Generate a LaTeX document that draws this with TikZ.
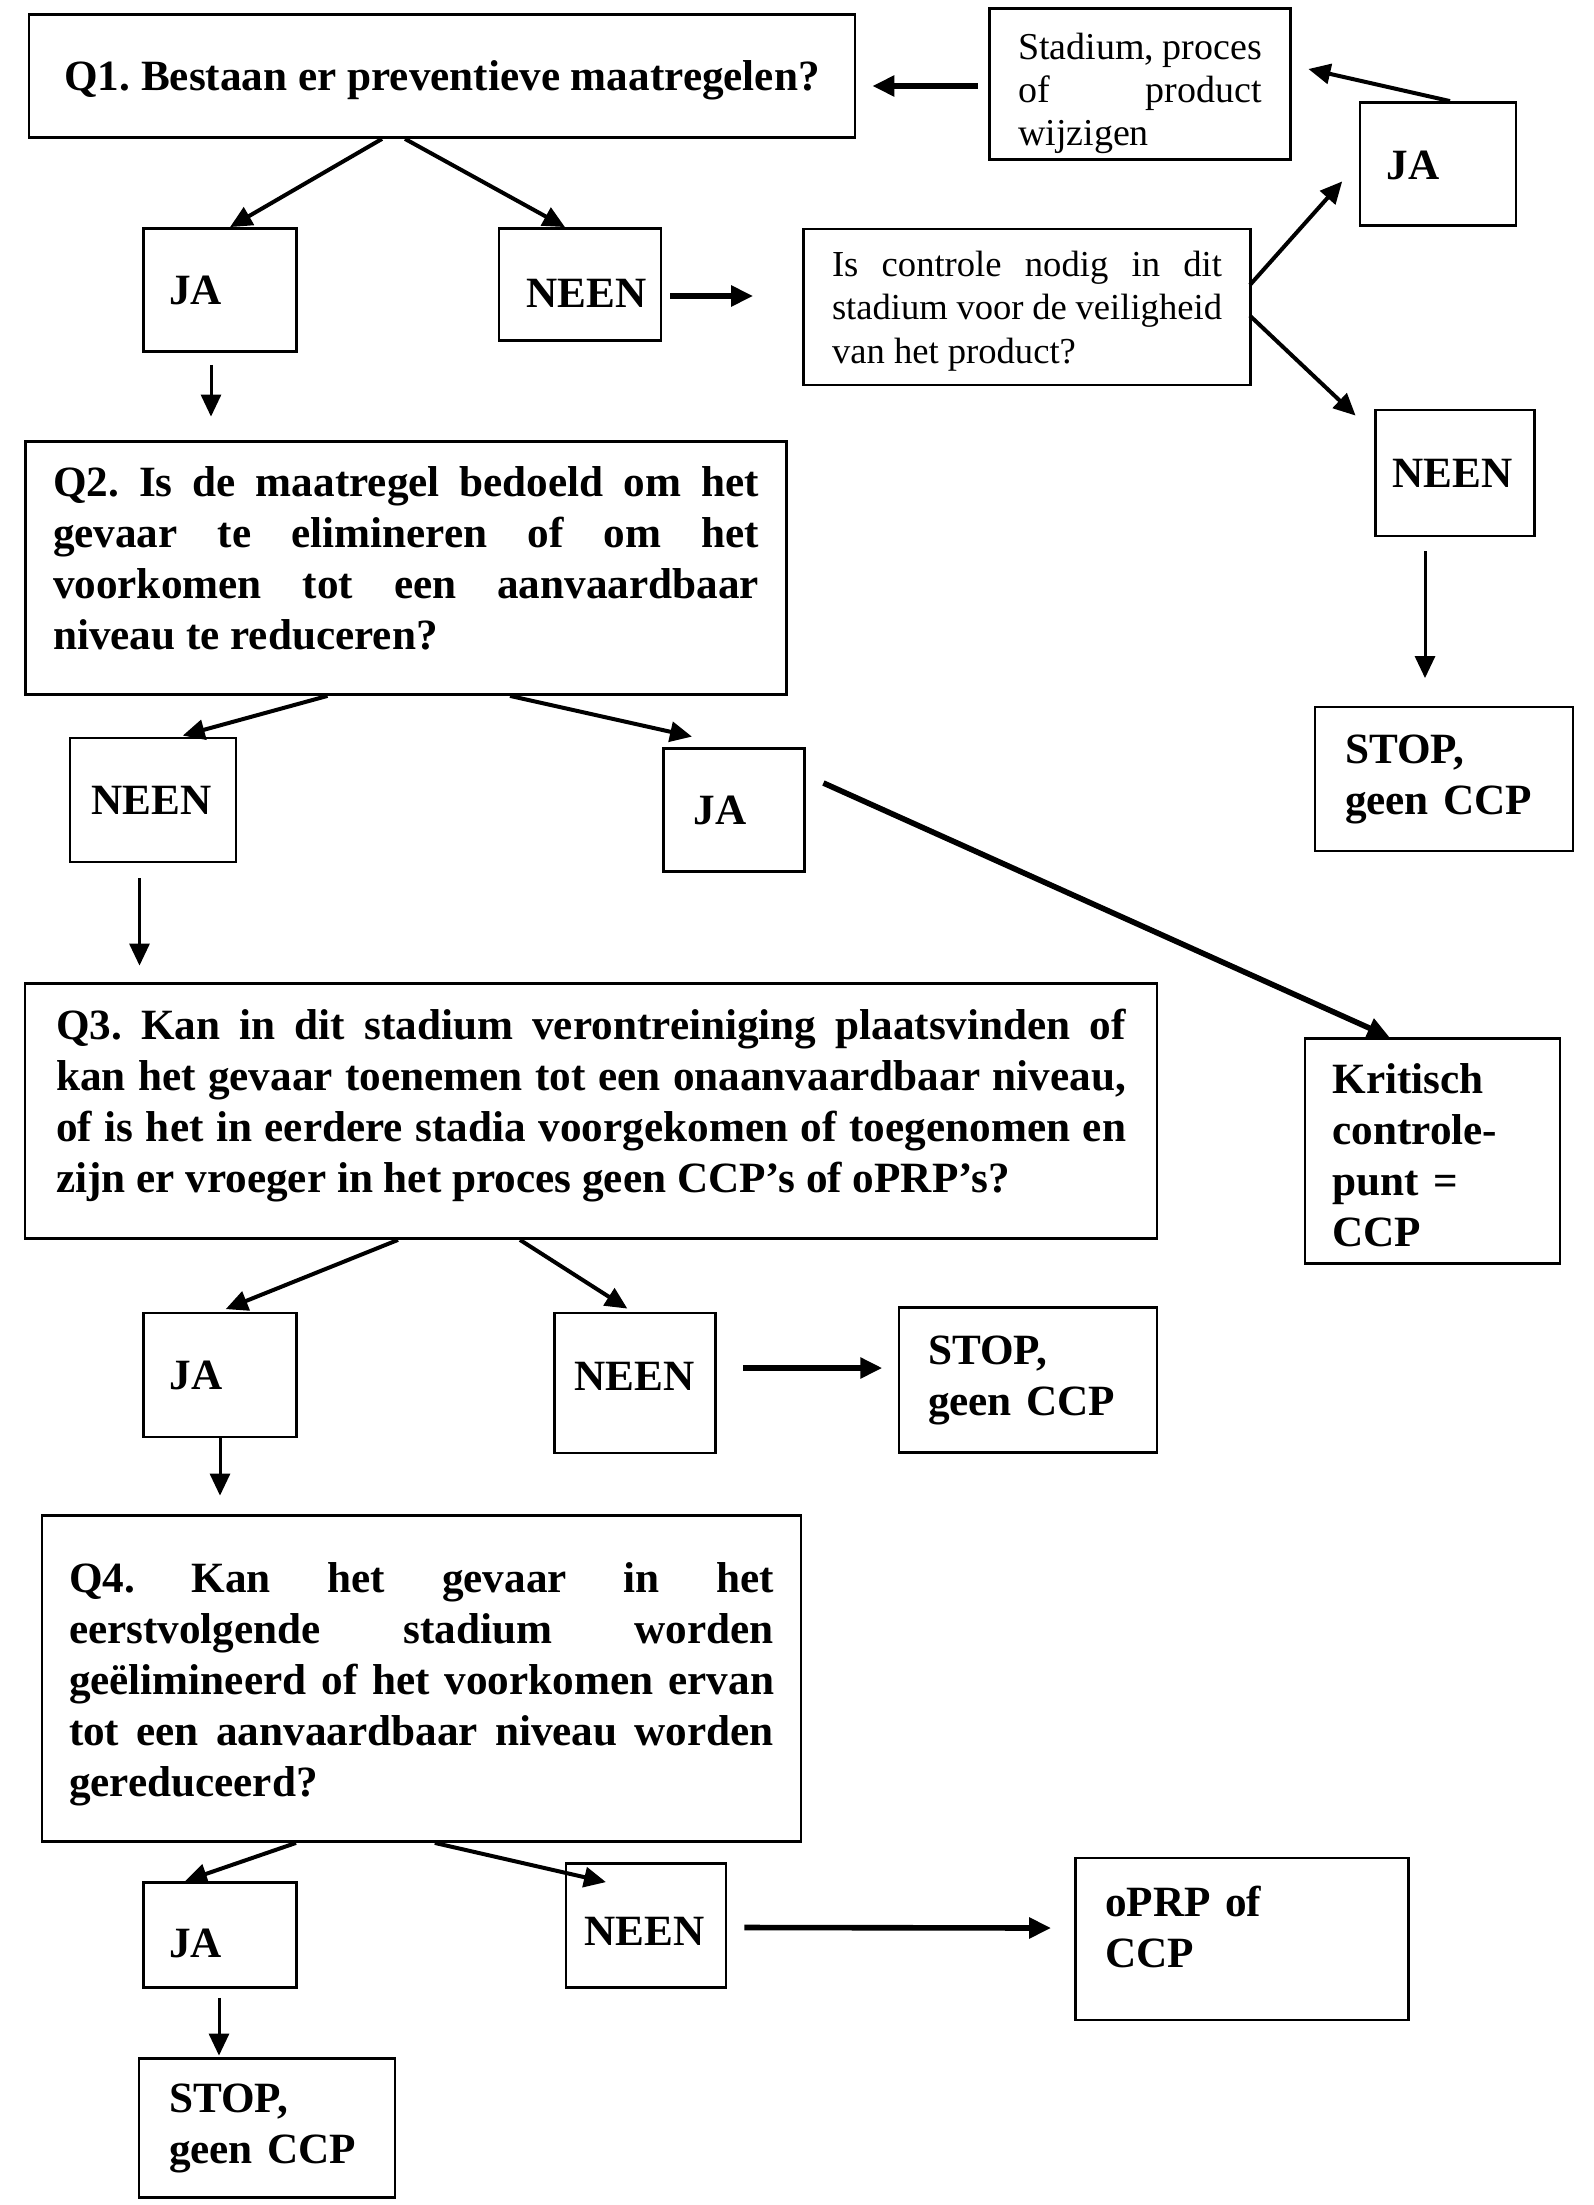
\documentclass[tikz,border=0pt]{standalone}
\usepackage{fontspec}
\setmainfont{Liberation Serif}
\usetikzlibrary{arrows.meta,calc}
\setlength{\parindent}{0pt}
\frenchspacing
\tolerance=9999
\hyphenpenalty=10000
\exhyphenpenalty=10000
\hbadness=10000
\hfuzz=100pt
\newcommand{\upstrut}[1]{\rule{0pt}{#1}}
\newcommand{\downstrut}[1]{\rule[-#1]{0pt}{#1}}
\begin{document}
\begin{tikzpicture}[x=0.5pt,y=-0.5pt,
  box/.style={draw, line width=1.4pt, rectangle, inner sep=0pt,
    font=\bfseries\fontsize{21.6pt}{25.5pt}\selectfont, align=left},
  qbox/.style={box, align=justify},
  smallbox/.style={box, align=justify, font=\fontsize{18.3pt}{21.8pt}\selectfont},
  arr/.style={line width=2pt, -{Triangle[length=11pt,width=10pt]}},
  thickarr/.style={arr, line width=2.8pt},
  thinarr/.style={arr, line width=1.5pt}]
\fill[white] (0,0) rectangle (1594,2205);
\useasboundingbox (0,0) rectangle (1594,2205);

% top row
\node[box, align=center, minimum width=413pt, minimum height=61.5pt] (q1) at (442,76)
  {\upstrut{19pt}Q1. Bestaan er preventieve maatregelen?};
\node[smallbox, font=\fontsize{19pt}{21.4pt}\selectfont, minimum width=150.5pt, minimum height=75.5pt, text width=122pt] (stad) at (1140,84)
  {\upstrut{22.5pt}Stadium, proces\linebreak of product\linebreak wijzigen};
\node[box, minimum width=78pt, minimum height=61.5pt, text width=51.3pt] (jaR) at (1438,164) {\upstrut{15.5pt}JA};
\node[smallbox, minimum width=223.5pt, minimum height=78pt, text width=195pt] (ctrl) at (1027,307)
  {\upstrut{16.5pt}Is controle nodig in dit\linebreak stadium voor de veiligheid\linebreak van het product?};
\node[box, minimum width=79.5pt, minimum height=63pt, text width=62.5pt] (neeR) at (1455,473) {NEEN};
\node[box, minimum width=129pt, minimum height=72pt, text width=99pt] (stopR) at (1444,779) {STOP,\\geen CCP};
\node[box, minimum width=127.5pt, minimum height=112.5pt, text width=100pt] (krit) at (1432.5,1151)
  {\upstrut{19.5pt}Kritisch\\controle-\\punt =\\CCP};

% Q1 answers
\node[box, minimum width=76.5pt, minimum height=61.5pt, text width=51pt] (ja1) at (220,290) {JA};
\node[box, minimum width=81pt, minimum height=56pt, text width=53.5pt] (nee1) at (580,284.5) {\upstrut{22.8pt}NEEN};

% Q2
\node[qbox, minimum width=380.5pt, minimum height=126.5pt, text width=353pt] (q2) at (406,568)
  {Q2. Is de maatregel bedoeld om het\linebreak gevaar te elimineren of om het\linebreak voorkomen tot een aanvaardbaar\linebreak niveau te reduceren?\downstrut{10pt}};
\node[box, minimum width=83pt, minimum height=62pt, text width=61.2pt] (nee2) at (153,800) {NEEN};
\node[box, minimum width=70.5pt, minimum height=61.5pt, text width=40.5pt] (ja2) at (734,810) {JA};

% Q3
\node[qbox, minimum width=566pt, minimum height=127.5pt, text width=535pt] (q3) at (591,1111)
  {Q3. Kan in dit stadium verontreiniging plaatsvinden of\linebreak kan het gevaar toenemen tot een onaanvaardbaar niveau,\linebreak of is het in eerdere stadia voorgekomen of toegenomen en\linebreak zijn er vroeger in het proces geen CCP’s of oPRP’s?\downstrut{10.7pt}};
\node[box, minimum width=76.5pt, minimum height=62pt, text width=50.5pt] (ja3) at (220,1375) {JA};
\node[box, minimum width=80.5pt, minimum height=70pt, text width=60.2pt] (nee3) at (635,1383) {NEEN\downstrut{7pt}};
\node[box, minimum width=129pt, minimum height=72.5pt, text width=100pt] (stop3) at (1028,1380) {STOP,\\geen CCP};

% Q4
\node[qbox, minimum width=379.5pt, minimum height=163pt, text width=352.5pt] (q4) at (421.5,1678.5)
  {\upstrut{20.6pt}Q4. Kan het gevaar in het\linebreak eerstvolgende stadium worden\linebreak geëlimineerd of het voorkomen ervan\linebreak tot een aanvaardbaar niveau worden\linebreak gereduceerd?};
\node[box, minimum width=76.5pt, minimum height=52.5pt, text width=51pt] (ja4) at (220,1935) {\upstrut{22.8pt}JA};
\node[box, minimum width=80pt, minimum height=62pt, text width=61.4pt] (nee4) at (646,1925.5) {\upstrut{19.9pt}NEEN};
\node[box, minimum width=166.5pt, minimum height=81pt, text width=136.8pt] (oprp) at (1242,1939) {oPRP of\\CCP\downstrut{12pt}};
\node[box, minimum width=128pt, minimum height=69.5pt, text width=98pt] (stop4) at (267,2128) {STOP,\\geen CCP};

% connectors
\draw[arr] ($(q1.south)+(-60,0)$) -- ($(ja1.north)+(10,0)$);
\draw[arr] ($(q1.south)+(-37,0)$) -- ($(nee1.north)+(-15,0)$);
\draw[thickarr] ($(nee1.east)+(8,11.5)$) -- ($(ctrl.west)+(-49,-11)$);
\draw[thinarr] ($(ja1.south)+(-9,12)$) -- ($(q2.north)+(-195,-23.5)$);
\draw[thickarr] ($(stad.west)+(-10.5,2)$) -- ($(q1.east)+(16,10)$);
\draw[arr] ($(jaR.north)+(12,0)$) -- ($(stad.east)+(16.5,-15)$);
\draw[arr] ($(ctrl.east)+(-2,-22)$) -- ($(jaR.south west)+(-16.4,-45.5)$);
\draw[arr] ($(ctrl.east)+(-2,8.7)$) -- ($(neeR.north west)+(-18.5,7)$);
\draw[thinarr] ($(neeR.south)+(-30,14)$) -- ($(stopR.north)+(-19,-27.5)$);
\draw[arr] ($(q2.south)+(-78.5,0)$) -- ($(nee2.north)+(29.7,-1)$);
\draw[arr] ($(q2.south)+(104,0)$) -- ($(ja2.north)+(-42,-10.5)$);
\draw[thickarr] ($(ja2.east)+(17.5,-27)$) -- ($(krit.north)+(-43,0)$);
\draw[thinarr] ($(nee2.south)+(-13.5,15)$) -- ($(q3.north)+(-451.5,-16.5)$);
\draw[arr] ($(q3.south)+(-193,0)$) -- ($(ja3.north)+(5.7,-2.5)$);
\draw[arr] ($(q3.south)+(-71,0)$) -- ($(nee3.north)+(-7.6,-3)$);
\draw[thickarr] ($(nee3.east)+(26.5,-15)$) -- ($(stop3.west)+(-15.3,-12)$);
\draw[thinarr] (ja3.south) -- ($(q4.north)+(-201.5,-18.5)$);
\draw[arr] ($(q4.south)+(-125.5,0)$) -- ($(ja4.north)+(-35,0)$);
\draw[arr] ($(q4.south)+(13.3,0)$) -- ($(nee4.north)+(-40,20)$);
\draw[thickarr] ($(nee4.east)+(17,2)$) -- ($(oprp.west)+(-23,-11)$);
\draw[thinarr] ($(ja4.south)+(-1,9)$) -- ($(stop4.north)+(-48,-1.5)$);
\end{tikzpicture}
\end{document}
